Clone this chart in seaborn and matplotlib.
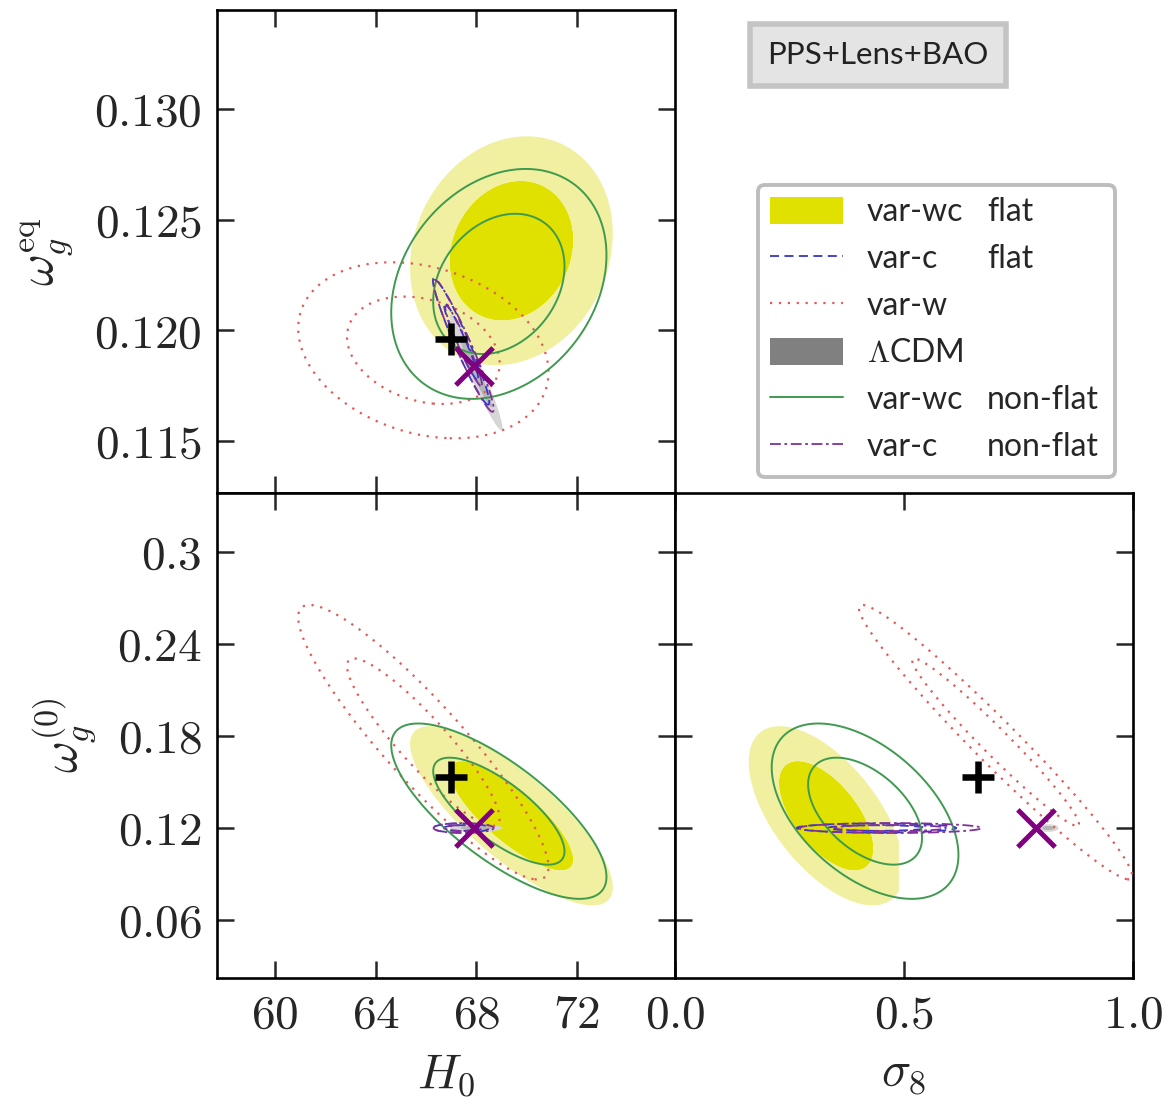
import numpy as np
import matplotlib
matplotlib.use("Agg")
import matplotlib.pyplot as plt
import seaborn as sns
from matplotlib.patches import Patch, FancyBboxPatch
from matplotlib.lines import Line2D

# ---------------- data ----------------
legend_first = ["var-wc", "var-c", "var-w", r"$\Lambda$CDM", "var-wc", "var-c"]
legend_second = ["flat", "flat", "", "", "non-flat", "non-flat"]

# posterior means  (H0, omega_g^eq, omega_g^(0), sigma8)
mean_H0 = [69.4, 67.4, 65.9, 68.0, 68.9, 67.5]
mean_weq = [0.1236, 0.1195, 0.1191, 0.1181, 0.1221, 0.1193]
mean_w0 = [0.128, 0.120, 0.176, 0.120, 0.131, 0.120]
mean_s8 = [0.33, 0.44, 0.70, 0.815, 0.415, 0.47]
# standard deviations
sd_H0 = [1.62, 0.45, 2.0, 0.42, 1.72, 0.48]
sd_weq = [0.00208, 0.00115, 0.0016, 0.00105, 0.00209, 0.0012]
sd_w0 = [0.0235, 0.0012, 0.036, 0.0010, 0.0230, 0.0013]
sd_s8 = [0.068, 0.07, 0.12, 0.009, 0.082, 0.08]
# correlation coefficients
rho_H0_weq = [0.15, -0.96, -0.25, -0.96, 0.25, -0.96]
rho_H0_w0 = [-0.80, 0.0, -0.91, 0.0, -0.75, 0.0]
rho_s8_w0 = [-0.60, 0.0, -0.975, 0.0, -0.50, 0.0]
s8_upper = [0.49, None, None, None, None, None]

# reference points
plus_pt = [67.0, 0.1196, 0.153, 0.662]
cross_pt = [67.9, 0.1184, 0.120, 0.788]

# axes ticks / ranges
H0_ticks = [60, 64, 68, 72]
weq_ticks = [0.115, 0.120, 0.125, 0.130]
w0_ticks = [0.06, 0.12, 0.18, 0.24, 0.30]
s8_ticks = [0.0, 0.5, 1.0]
H0_ticklabels = ["60", "64", "68", "72"]
weq_ticklabels = ["0.115", "0.120", "0.125", "0.130"]
w0_ticklabels = ["0.06", "0.12", "0.18", "0.24", "0.3"]
s8_ticklabels = ["0.0", "0.5", "1.0"]
H0_lim = (57.7, 75.9)
weq_lim = (0.11265, 0.13448)
w0_lim = (0.0222, 0.3385)
s8_lim = (0.0, 1.0)

chi2_levels = [2.30, 6.18]

# ---------------- style ----------------
sns.set_theme(style="ticks")
plt.rcParams["mathtext.fontset"] = "cm"
plt.rcParams["font.family"] = ["Lato", "DejaVu Sans"]

styles = [
    dict(kind="fill", colors=["#e1e100", "#f0f0a0"], legend="#e1e100"),
    dict(kind="line", color="#3535c8", ls=(0, (5, 3)), lw=1.3),
    dict(kind="line", color="#e05a5a", ls=(0, (1, 3)), lw=1.6),
    dict(kind="fill", colors=["#b4b4b4", "#d6d6d6"], legend="#808080"),
    dict(kind="line", color="#3f9a4f", ls="solid", lw=1.4),
    dict(kind="line", color="#80309a", ls=(0, (6, 2, 1.5, 2)), lw=1.3),
]

W, H = 1171, 1109
fig = plt.figure(figsize=(W / 100, H / 100), dpi=100)
ax_tl = fig.add_axes([217 / W, 1 - 493 / H, 458 / W, 483 / H])
ax_bl = fig.add_axes([217 / W, 1 - 978 / H, 458 / W, 485 / H])
ax_br = fig.add_axes([675 / W, 1 - 978 / H, 458 / W, 485 / H])


def draw_model(ax, mx, my, sx, sy, rho, st, xcut=None, zorder=1):
    x = np.linspace(mx - 4.5 * sx, mx + 4.5 * sx, 500)
    y = np.linspace(my - 4.5 * sy, my + 4.5 * sy, 500)
    X, Y = np.meshgrid(x, y)
    dx = (X - mx) / sx
    dy = (Y - my) / sy
    r2 = (dx ** 2 - 2 * rho * dx * dy + dy ** 2) / (1 - rho ** 2)
    if xcut is not None:
        r2 = np.where(X > xcut, 100.0, r2)
    if st["kind"] == "fill":
        ax.contourf(X, Y, r2, levels=[-1, chi2_levels[0], chi2_levels[1]],
                    colors=st["colors"], zorder=zorder, antialiased=True)
    else:
        cs = ax.contour(X, Y, r2, levels=chi2_levels, colors=st["color"],
                        linewidths=st["lw"], zorder=zorder)
        cs.set_linestyle(st["ls"])


order = [0, 3, 2, 1, 4, 5]
for z, i in enumerate(order):
    st = styles[i]
    zo = 1 + z
    draw_model(ax_tl, mean_H0[i], mean_weq[i], sd_H0[i], sd_weq[i], rho_H0_weq[i], st, zorder=zo)
    draw_model(ax_bl, mean_H0[i], mean_w0[i], sd_H0[i], sd_w0[i], rho_H0_w0[i], st, zorder=zo)
    draw_model(ax_br, mean_s8[i], mean_w0[i], sd_s8[i], sd_w0[i], rho_s8_w0[i], st,
               xcut=s8_upper[i], zorder=zo)

# reference markers
for ax, ix, iy in [(ax_tl, 0, 1), (ax_bl, 0, 2), (ax_br, 3, 2)]:
    sns.scatterplot(x=[plus_pt[ix]], y=[plus_pt[iy]], marker="+", s=540,
                    color="black", linewidth=4.7, ax=ax, zorder=20, legend=False)
    sns.scatterplot(x=[cross_pt[ix]], y=[cross_pt[iy]], marker="x", s=720,
                    color="#800080", linewidth=3.6, ax=ax, zorder=21, legend=False)

# axes formatting
def math(lbls):
    return [r"$%s$" % l for l in lbls]

TICK_FS = 34
LABEL_FS = 35
for ax in (ax_tl, ax_bl, ax_br):
    ax.tick_params(direction="in", length=12, width=1.8, top=True, right=True,
                   labelsize=TICK_FS, pad=11)
    for sp in ax.spines.values():
        sp.set_linewidth(1.9)
        sp.set_color("black")
        sp.set_visible(True)

ax_tl.set_xlim(*H0_lim)
ax_tl.set_ylim(*weq_lim)
ax_tl.set_xticks(H0_ticks)
ax_tl.set_xticklabels([])
ax_tl.set_yticks(weq_ticks)
ax_tl.set_yticklabels(math(weq_ticklabels))
ax_tl.set_ylabel(r"$\omega_g^{\rm eq}$", fontsize=LABEL_FS, labelpad=14)

ax_bl.set_xlim(*H0_lim)
ax_bl.set_ylim(*w0_lim)
ax_bl.set_xticks(H0_ticks)
ax_bl.set_xticklabels(math(H0_ticklabels))
ax_bl.set_yticks(w0_ticks)
ax_bl.set_yticklabels(math(w0_ticklabels))
ax_bl.set_xlabel(r"$H_0$", fontsize=LABEL_FS, labelpad=12)
ax_bl.set_ylabel(r"$\omega_g^{(0)}$", fontsize=LABEL_FS, labelpad=14)

ax_br.set_xlim(*s8_lim)
ax_br.set_ylim(*w0_lim)
ax_br.set_xticks(s8_ticks)
ax_br.set_xticklabels(math(s8_ticklabels))
ax_br.set_yticks(w0_ticks)
ax_br.set_yticklabels([])
ax_br.set_xlabel(r"$\sigma_8$", fontsize=LABEL_FS, labelpad=12)

# legend
handles = []
for st in styles:
    if st["kind"] == "fill":
        handles.append(Patch(facecolor=st["legend"], edgecolor="none"))
    else:
        handles.append(Line2D([0], [0], color=st["color"], ls=st["ls"], lw=st["lw"]))

LEG_FS = 23
leg = ax_tl.legend(handles, list(legend_first), loc="upper left",
                   bbox_to_anchor=(758 / W, 1 - 185 / H), bbox_transform=fig.transFigure,
                   fontsize=LEG_FS, handlelength=2.3, handleheight=0.95, handletextpad=0.75,
                   labelspacing=0.51, borderpad=0.36, borderaxespad=0, frameon=False)

# legend frame spanning both text columns
frame = FancyBboxPatch((758 / W, 1 - 477 / H), (1115 - 758) / W, (477 - 185) / H,
                       boxstyle="round,pad=0,rounding_size=0.006",
                       transform=fig.transFigure, fc="white", ec="#bdbdbd", lw=2.8,
                       zorder=-1)
fig.patches.append(frame)

fig.text(878 / W, 1 - 55 / H, "PPS+Lens+BAO", ha="center", va="center", fontsize=22.5,
         color="#222222",
         bbox=dict(boxstyle="square,pad=0.55", fc="#e4e4e4", ec="#c4c4c4", lw=4))

fig.canvas.draw()
inv = fig.transFigure.inverted()
for txt, second in zip(leg.get_texts(), legend_second):
    if not second:
        continue
    px, py = txt.get_transform().transform(txt.get_position())
    fx, fy = inv.transform((px, py))
    fig.text(987 / W, fy, second, ha="left", va=txt.get_va(), fontsize=LEG_FS,
             color=txt.get_color(), zorder=30)

fig.savefig("out.png", dpi=100)
